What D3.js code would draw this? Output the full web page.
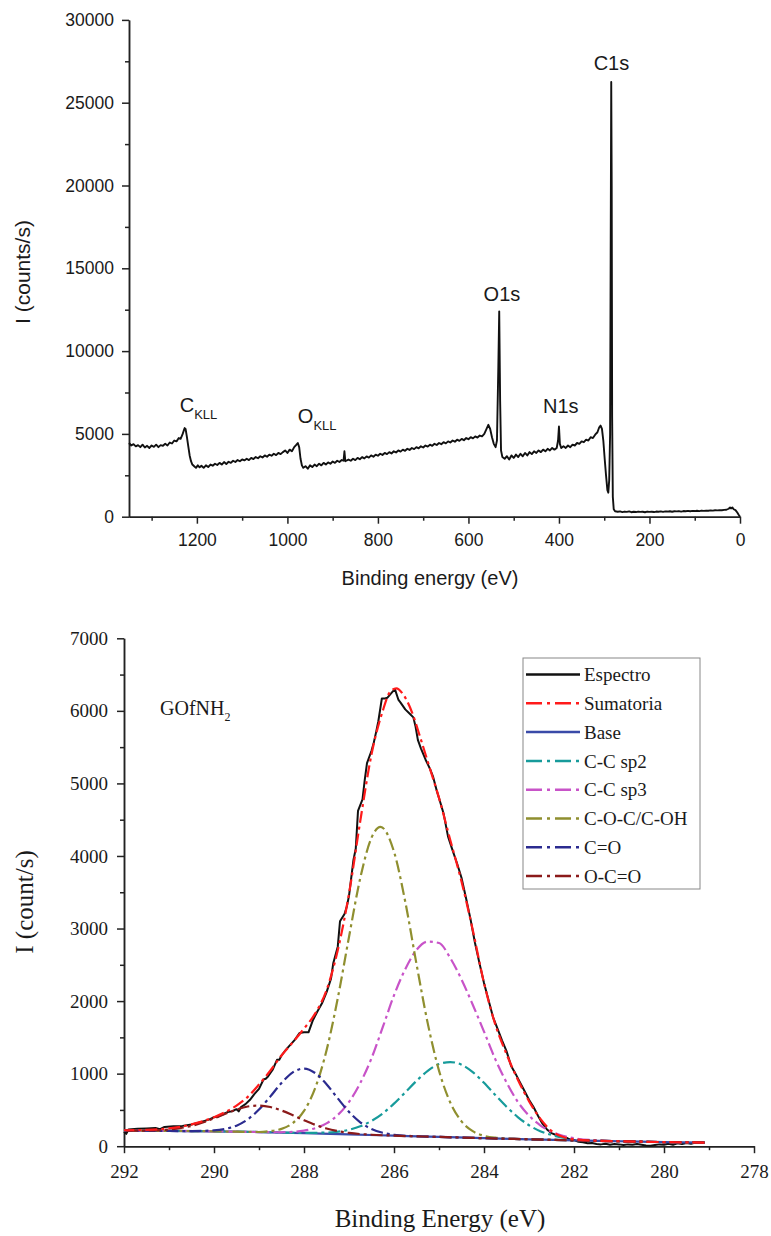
<!DOCTYPE html>
<html><head><meta charset="utf-8">
<script src="https://cdn.jsdelivr.net/npm/d3@7"></script>
<style>body{margin:0;background:#fff}svg text{fill:#1a1a1a}</style>
</head><body>
<svg id="c" width="771" height="1236" xmlns="http://www.w3.org/2000/svg"></svg>
<script>
// ---------- TOP: XPS survey ----------
const surveyXTicks = [1200,1000,800,600,400,200,0];
const surveyXMinor = [1300,1100,900,700,500,300,100];
const surveyYTicks = [0,5000,10000,15000,20000,25000,30000];
const surveyYMinor = [2500,7500,12500,17500,22500,27500];
// [binding energy eV, counts/s]
const surveyData = [
[1350,4450],[1345,4300],[1340,4380],[1335,4250],[1330,4320],[1325,4200],[1320,4350],[1315,4180],[1310,4280],[1305,4150],
[1300,4300],[1295,4220],[1290,4350],[1285,4200],[1280,4320],[1275,4280],[1270,4400],[1265,4300],[1260,4480],[1255,4420],
[1250,4600],[1245,4550],[1240,4750],[1236,4700],[1232,4950],[1229,5200],[1227,5350],[1225,5300],[1222,4800],[1219,4250],
[1216,3700],[1213,3350],[1210,3150],[1206,3050],[1202,2950],[1198,3100],[1194,2980],[1190,3080],[1185,2950],[1180,3100],
[1175,3000],[1170,3150],[1165,3080],[1160,3200],[1155,3120],[1150,3250],[1145,3150],[1140,3300],[1135,3180],[1130,3320],
[1125,3250],[1120,3380],[1115,3300],[1110,3420],[1105,3350],[1100,3460],[1095,3400],[1090,3500],[1085,3420],[1080,3550],
[1075,3480],[1070,3600],[1065,3530],[1060,3650],[1055,3580],[1050,3700],[1045,3620],[1040,3750],[1035,3680],[1030,3800],
[1025,3720],[1020,3850],[1015,3780],[1010,3900],[1005,4000],[1000,3850],[995,4050],[990,3950],[985,4200],[980,4350],
[977,4450],[974,4200],[971,3500],[968,3100],[965,2950],[960,3050],[955,2900],[950,3100],[945,3000],[940,3150],
[935,3050],[930,3200],[925,3100],[920,3250],[915,3150],[910,3280],[905,3200],[900,3330],[895,3250],[890,3380],
[885,3300],[880,3420],[876,3380],[874,3950],[872,3350],[870,3380],[865,3450],[860,3380],[855,3500],[850,3420],
[845,3550],[840,3470],[835,3600],[830,3520],[825,3640],[820,3570],[815,3700],[810,3620],[805,3750],[800,3680],
[795,3800],[790,3730],[785,3850],[780,3780],[775,3900],[770,3820],[765,3950],[760,3880],[755,4000],[750,3930],
[745,4050],[740,3980],[735,4100],[730,4030],[725,4150],[720,4080],[715,4200],[710,4130],[705,4250],[700,4180],
[695,4300],[690,4230],[685,4350],[680,4280],[675,4400],[670,4330],[665,4450],[660,4380],[655,4500],[650,4430],
[645,4550],[640,4480],[635,4600],[630,4530],[625,4650],[620,4580],[615,4700],[610,4620],[605,4750],[600,4680],
[595,4800],[590,4730],[585,4850],[580,4780],[575,4900],[570,4850],[565,5000],[560,5300],[556,5550],[552,5300],
[548,4800],[544,4400],[540,4200],[537,4600],[534,9000],[532,12400],[530,7000],[528,4000],[525,3600],[520,3500],
[515,3650],[510,3450],[505,3700],[500,3550],[495,3750],[490,3600],[485,3800],[480,3650],[475,3850],[470,3700],
[465,3900],[460,3780],[455,3950],[450,3850],[445,4000],[440,3900],[435,4050],[430,3950],[425,4100],[420,4000],
[415,4150],[410,4050],[405,4150],[402,4600],[400,5450],[398,4400],[395,4150],[390,4250],[385,4150],[380,4300],
[375,4200],[370,4350],[365,4300],[360,4450],[355,4400],[350,4550],[345,4500],[340,4650],[335,4600],[330,4800],
[325,4750],[320,4950],[315,5100],[311,5400],[308,5500],[305,5300],[302,4600],[299,3500],[296,2500],[293,1600],
[291,1450],[289,2200],[287,5000],[285.5,18000],[284.5,26250],[283.5,20000],[282.5,6000],[281,1200],[279,450],[276,330],
[270,300],[265,320],[260,280],[255,310],[250,290],[245,320],[240,270],[235,300],[230,280],[225,310],
[220,290],[215,300],[210,270],[205,310],[200,290],[195,300],[190,280],[185,310],[180,300],[175,320],
[170,290],[165,320],[160,310],[155,330],[150,300],[145,330],[140,320],[135,340],[130,310],[125,340],
[120,330],[115,350],[110,330],[105,350],[100,340],[95,360],[90,340],[85,370],[80,350],[75,370],
[70,360],[65,380],[60,370],[55,390],[50,380],[45,400],[40,390],[35,410],[30,420],[25,480],
[22,560],[20,500],[17,560],[14,450],[10,400],[6,250],[3,120],[0,0]
];
const surveyLabels = [
  {main:"C", sub:"KLL", eV:1238, counts:6300},
  {main:"O", sub:"KLL", eV:977, counts:5650},
  {main:"N1s", sub:"", eV:396, counts:6250},
  {main:"O1s", sub:"", eV:526, counts:13000},
  {main:"C1s", sub:"", eV:284, counts:26950}
];

// ---------- BOTTOM: C1s high resolution ----------
const hrXTicks = [292,290,288,286,284,282,280,278];
const hrXMinor = [291,289,287,285,283,281,279];
const hrYTicks = [0,1000,2000,3000,4000,5000,6000,7000];
const hrYMinor = [500,1500,2500,3500,4500,5500,6500];
const espectro = [
[292.0,200],[291.95,170],[291.9,230],[291.7,240],[291.5,245],[291.3,250],[291.2,235],[291.1,265],[290.9,275],[290.7,280],
[290.5,300],[290.3,330],[290.1,370],[290.0,400],[289.9,410],[289.8,440],[289.7,470],[289.6,480],[289.5,510],[289.45,480],
[289.4,540],[289.3,580],[289.2,640],[289.1,720],[289.0,790],[288.9,920],[288.85,930],[288.8,960],[288.7,1050],[288.6,1190],
[288.55,1190],[288.5,1250],[288.4,1330],[288.3,1400],[288.2,1470],[288.1,1560],[288.0,1570],[287.9,1570],[287.8,1740],[287.7,1860],
[287.6,1970],[287.5,2120],[287.4,2310],[287.35,2520],[287.25,2750],[287.2,3100],[287.1,3200],[287.05,3300],[287.0,3450],[286.95,3700],
[286.9,3950],[286.85,4100],[286.8,4620],[286.7,4780],[286.65,5050],[286.6,5280],[286.5,5450],[286.45,5560],[286.4,5700],[286.35,5850],
[286.3,6050],[286.27,6170],[286.2,6170],[286.15,6180],[286.05,6250],[285.98,6300],[285.9,6150],[285.85,6110],[285.75,6020],[285.65,5960],
[285.57,5910],[285.52,5780],[285.47,5600],[285.4,5480],[285.3,5330],[285.2,5200],[285.13,5090],[285.05,4900],[285.0,4800],[284.9,4590],
[284.8,4270],[284.7,4080],[284.6,3900],[284.5,3700],[284.4,3420],[284.3,3130],[284.2,2800],[284.1,2520],[284.0,2250],[283.9,2015],
[283.8,1780],[283.7,1620],[283.6,1460],[283.5,1310],[283.4,1110],[283.3,1000],[283.2,880],[283.1,760],[283.0,640],[282.9,540],
[282.8,420],[282.7,310],[282.6,230],[282.5,180],[282.4,155],[282.3,140],[282.2,130],[282.1,95],[282.0,85],[281.9,60],
[281.8,55],[281.7,40],[281.6,45],[281.5,30],[281.4,25],[281.3,35],[281.2,20],[281.1,30],[281.0,25],[280.9,15],
[280.8,25],[280.7,20],[280.6,30],[280.5,20],[280.4,10],[280.3,5],[280.2,15],[280.1,25],[280.0,20],[279.9,35],
[279.8,20],[279.7,40],[279.6,30],[279.5,45],[279.4,35],[279.3,50],[279.2,45],[279.1,55]
];
const sumatoria = [
[292,220],[291.5,225],[291,245],[290.5,300],[290,400],[289.75,470],[289.5,560],[289.25,680],[289,850],[288.75,1040],
[288.5,1250],[288.25,1430],[288,1620],[287.75,1830],[287.5,2150],[287.25,2700],[287,3480],[286.75,4480],[286.5,5400],[286.25,6000],
[286.1,6250],[285.95,6310],[285.8,6230],[285.6,5980],[285.4,5600],[285.2,5200],[285,4800],[284.75,4220],[284.5,3650],[284.25,2980],
[284,2250],[283.75,1680],[283.5,1270],[283.25,920],[283,620],[282.75,380],[282.5,210],[282.25,130],[282,95],[281.5,75],
[281,68],[280,57],[279.1,50]
];
const base = [
[292,215],[291,210],[290,205],[289,195],[288,180],[287,162],[286,145],[285,128],[284,110],[283,95],[282,80],[281,68],[280,57],[279.1,50]
];
const ccSp2 = [
[292,215],[290,205],[289,196],[288,183],[287.5,188],[287,226],[286.75,274],[286.5,349],[286.25,452],[286,587],
[285.75,742],[285.5,900],[285.25,1039],[285,1133],[284.75,1160],[284.5,1124],[284.25,1021],[284,874],[283.75,707],[283.5,545],
[283.25,402],[283,289],[282.75,207],[282.5,155],[282.25,117],[282,97],[281.5,77],[281,68],[280,57],[279.1,50]
];
const ccSp3 = [
[292,215],[290,205],[289,195],[288.5,192],[288,215],[287.75,249],[287.5,315],[287.25,430],[287,610],[286.75,871],
[286.5,1212],[286.25,1640],[286,2080],[285.75,2440],[285.5,2704],[285.25,2820],[285,2800],[284.75,2594],[284.5,2298],[284.25,1950],
[284,1580],[283.75,1200],[283.5,880],[283.25,612],[283,422],[282.75,288],[282.5,200],[282.25,144],[282,111],[281.5,80],
[281,68],[280,57],[279.1,50]
];
const cocCoh = [
[292,215],[290,205],[289.5,200],[289,196],[288.75,209],[288.5,239],[288.25,318],[288,486],[287.75,804],[287.5,1319],
[287.25,2038],[287,2884],[286.75,3694],[286.5,4251],[286.3,4400],[286,4059],[285.75,3370],[285.5,2511],[285.25,1693],[285,1042],
[284.75,602],[284.5,343],[284.25,207],[284,144],[283.75,117],[283.5,105],[283,95],[282,80],[281,68],[280,57],[279.1,50]
];
const cEqO = [
[292,215],[291,210],[290.5,208],[290,218],[289.75,238],[289.5,283],[289.25,370],[289,506],[288.75,683],[288.5,871],
[288.25,1017],[288,1070],[287.75,1008],[287.5,855],[287.25,659],[287,473],[286.75,330],[286.5,237],[286.25,185],[286,158],
[285.5,137],[285,128],[284,110],[283,95],[282,80],[281,68],[280,57],[279.1,50]
];
const oCeqO = [
[292,215],[291.5,216],[291,231],[290.75,249],[290.5,280],[290.25,326],[290,384],[289.75,446],[289.5,505],[289.25,547],
[289,560],[288.75,540],[288.5,492],[288.25,428],[288,359],[287.75,295],[287.5,244],[287.25,208],[287,183],[286.5,158],
[286,145],[285,128],[284,110],[283,95],[282,80],[281,68],[280,57],[279.1,50]
];
const seriesNames = ["Espectro","Sumatoria","Base","C-C sp2","C-C sp3","C-O-C/C-OH","C=O","O-C=O"];
const seriesColors = ["#111111","#ff1a1a","#3a4aa8","#179b9b","#c853c8","#8f8f2f","#2b2b8f","#8b1a1a"];
const seriesDashed = [false,true,false,true,true,true,true,true];
const seriesData = [espectro,sumatoria,base,ccSp2,ccSp3,cocCoh,cEqO,oCeqO];
const drawOrder = [0,2,3,4,5,6,7,1];

const svg = d3.select("#c");
const SANS = "'Liberation Sans', Arial, sans-serif";
const SERIF = "'Liberation Serif', 'Times New Roman', serif";
const DASH = "12,4,3,4";
const fmt = d3.format("d");

function styleAxis(g, font, size){
  g.select(".domain").attr("stroke","#222").attr("stroke-width",1.5);
  g.selectAll(".tick line").attr("stroke","#222").attr("stroke-width",1.5);
  g.selectAll(".tick text").attr("font-family",font).attr("font-size",size).attr("fill","#1a1a1a");
}

// ===== TOP =====
const x1 = d3.scaleLinear().domain([1350,0]).range([129,740]);
const y1 = d3.scaleLinear().domain([0,30000]).range([516.7,19.9]);
const gTop = svg.append("g");
gTop.append("g").attr("transform","translate(0,516.7)")
  .call(d3.axisBottom(x1).tickValues(surveyXMinor).tickSize(4).tickFormat("").tickSizeOuter(0))
  .call(g=>styleAxis(g,SANS,17));
gTop.append("g").attr("transform","translate(0,516.7)")
  .call(d3.axisBottom(x1).tickValues(surveyXTicks).tickSize(7).tickPadding(10).tickSizeOuter(0).tickFormat(fmt))
  .call(g=>styleAxis(g,SANS,17.5));
gTop.append("g").attr("transform","translate(129,0)")
  .call(d3.axisLeft(y1).tickValues(surveyYMinor).tickSize(4).tickFormat("").tickSizeOuter(0))
  .call(g=>styleAxis(g,SANS,17));
gTop.append("g").attr("transform","translate(129,0)")
  .call(d3.axisLeft(y1).tickValues(surveyYTicks).tickSize(7).tickPadding(8).tickSizeOuter(0).tickFormat(fmt))
  .call(g=>styleAxis(g,SANS,17.5));

gTop.append("path").datum(surveyData)
  .attr("fill","none").attr("stroke","#111").attr("stroke-width",1.9).attr("stroke-linejoin","round")
  .attr("d", d3.line().x(d=>x1(d[0])).y(d=>y1(d[1])));

surveyLabels.forEach(l=>{
  const t = gTop.append("text").attr("x",x1(l.eV)).attr("y",y1(l.counts))
    .attr("font-family",SANS).attr("font-size",20).attr("text-anchor", l.sub ? "start":"middle");
  t.append("tspan").text(l.main);
  if(l.sub) t.append("tspan").attr("font-size",13).attr("dy",7).text(l.sub);
});
gTop.append("text").attr("x",430).attr("y",585).attr("text-anchor","middle")
  .attr("font-family",SANS).attr("font-size",20).text("Binding energy (eV)");
gTop.append("text").attr("transform","translate(30,272) rotate(-90)").attr("text-anchor","middle")
  .attr("font-family",SANS).attr("font-size",21).text("I (counts/s)");

// ===== BOTTOM =====
const x2 = d3.scaleLinear().domain([292,278]).range([124,754]);
const y2 = d3.scaleLinear().domain([0,7000]).range([1146.2,638.3]);
const gBot = svg.append("g");
gBot.append("g").attr("transform","translate(0,1146.2)")
  .call(d3.axisBottom(x2).tickValues(hrXMinor).tickSize(4).tickFormat("").tickSizeOuter(0))
  .call(g=>styleAxis(g,SERIF,18));
gBot.append("g").attr("transform","translate(0,1146.2)")
  .call(d3.axisBottom(x2).tickValues(hrXTicks).tickSize(7).tickPadding(11).tickSizeOuter(0).tickFormat(fmt))
  .call(g=>styleAxis(g,SERIF,19));
gBot.append("g").attr("transform","translate(124,0)")
  .call(d3.axisLeft(y2).tickValues(hrYMinor).tickSize(4).tickFormat("").tickSizeOuter(0))
  .call(g=>styleAxis(g,SERIF,18));
gBot.append("g").attr("transform","translate(124,0)")
  .call(d3.axisLeft(y2).tickValues(hrYTicks).tickSize(7).tickPadding(9).tickSizeOuter(0).tickFormat(fmt))
  .call(g=>styleAxis(g,SERIF,19));

const line2 = d3.line().x(d=>x2(d[0])).y(d=>y2(d[1]));
const smooth2 = d3.line().x(d=>x2(d[0])).y(d=>y2(d[1])).curve(d3.curveMonotoneX);
drawOrder.forEach(i=>{
  const p = gBot.append("path").datum(seriesData[i].slice().sort((a,b)=>a[0]-b[0]))
    .attr("fill","none").attr("stroke",seriesColors[i])
    .attr("stroke-width", i===0 ? 2 : 2.2).attr("stroke-linejoin","round")
    .attr("d", i===0 ? line2 : smooth2);
  if(seriesDashed[i]) p.attr("stroke-dasharray",DASH);
});

// sample label
const lab = gBot.append("text").attr("x",160).attr("y",715).attr("font-family",SERIF).attr("font-size",20);
lab.append("tspan").text("GOfNH");
lab.append("tspan").attr("font-size",12).attr("dy",6).text("2");

// legend
const leg = gBot.append("g");
leg.append("rect").attr("x",523).attr("y",658).attr("width",177).attr("height",231)
  .attr("fill","#fff").attr("stroke","#888").attr("stroke-width",1);
seriesNames.forEach((n,i)=>{
  const yy = 674.5 + i*28.8;
  const l = leg.append("line").attr("x1",526).attr("x2",580).attr("y1",yy).attr("y2",yy)
    .attr("stroke",seriesColors[i]).attr("stroke-width",2.5);
  if(seriesDashed[i]) l.attr("stroke-dasharray","16,5,3,5");
  leg.append("text").attr("x",584).attr("y",yy).attr("dy","0.35em")
    .attr("font-family",SERIF).attr("font-size",19).text(n);
});

gBot.append("text").attr("x",440).attr("y",1227).attr("text-anchor","middle")
  .attr("font-family",SERIF).attr("font-size",25).text("Binding Energy (eV)");
gBot.append("text").attr("transform","translate(33,902) rotate(-90)").attr("text-anchor","middle")
  .attr("font-family",SERIF).attr("font-size",25).text("I (count/s)");
</script>
</body></html>
